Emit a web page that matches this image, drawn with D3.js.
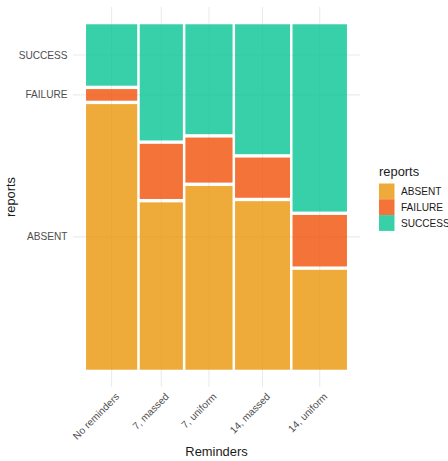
<!DOCTYPE html>
<html>
<head>
<meta charset="utf-8">
<script src="https://cdn.jsdelivr.net/npm/d3@7"></script>
<style>
  body { margin: 0; background: #fff; }
  text { font-family: "Liberation Sans", Arial, Helvetica, sans-serif; }
</style>
</head>
<body>
<svg id="chart" width="448" height="461"></svg>
<script>
// ---- data ----
const reminders = ["No reminders", "7, massed", "7, uniform", "14, massed", "14, uniform"];
const reports = ["ABSENT", "FAILURE", "SUCCESS"];
const absentCounts  = [160, 85, 102, 109, 64];
const failureCounts = [7, 28, 25, 26, 33];
const successCounts = [37, 59, 61, 84, 120];
const colors = ["#EB9609", "#F05006", "#06C492"];

const seriesCounts = [absentCounts, failureCounts, successCounts];
const offset = 0.01;

const svg = d3.select("#chart");
const panel = {left: 73, right: 360, top: 7, bottom: 387};

const colTotals = reminders.map((_, i) => d3.sum(seriesCounts, s => s[i]));
const grand = d3.sum(colTotals);
const xMax = 1 + offset * (reminders.length - 1);
const yMax = 1 + offset * (reports.length - 1);

const x = d3.scaleLinear().domain([-0.05 * xMax, xMax * 1.05]).range([panel.left, panel.right]);
const y = d3.scaleLinear().domain([-0.05 * yMax, yMax * 1.05]).range([panel.bottom, panel.top]);

// build rectangles
const cells = [];
let cx = 0;
reminders.forEach((r, i) => {
  const w = colTotals[i] / grand;
  let cy = 0;
  reports.forEach((rep, j) => {
    const h = seriesCounts[j][i] / colTotals[i];
    cells.push({r, rep, j, x0: cx, x1: cx + w, y0: cy, y1: cy + h});
    cy += h + offset;
  });
  cx += w + offset;
});

const colCenters = reminders.map(r => {
  const c = cells.find(d => d.r === r);
  return (c.x0 + c.x1) / 2;
});
const firstCol = cells.filter(d => d.r === reminders[0]);
const rowCenters = firstCol.map(d => (d.y0 + d.y1) / 2);

// grid
const g = svg.append("g");
g.selectAll(".vgrid").data(colCenters).join("line")
  .attr("x1", d => x(d)).attr("x2", d => x(d))
  .attr("y1", panel.top).attr("y2", panel.bottom)
  .attr("stroke", "#EBEBEB").attr("stroke-width", 1.1);
g.selectAll(".hgrid").data(rowCenters).join("line")
  .attr("y1", d => y(d)).attr("y2", d => y(d))
  .attr("x1", panel.left).attr("x2", panel.right)
  .attr("stroke", "#EBEBEB").attr("stroke-width", 1.1);

// bars
g.selectAll(".cell").data(cells).join("rect")
  .attr("x", d => x(d.x0))
  .attr("width", d => x(d.x1) - x(d.x0))
  .attr("y", d => y(d.y1))
  .attr("height", d => y(d.y0) - y(d.y1))
  .attr("fill", d => colors[d.j])
  .attr("fill-opacity", 0.8);

// y axis labels
g.selectAll(".ylab").data(rowCenters).join("text")
  .attr("x", 67.5).attr("y", d => y(d))
  .attr("dy", "0.35em")
  .attr("text-anchor", "end")
  .attr("font-size", "10.1px")
  .attr("fill", "#4D4D4D")
  .text((d, i) => reports[i]);

// x axis labels
g.selectAll(".xlab").data(colCenters).join("text")
  .attr("transform", d => `translate(${x(d) + 4},${393}) rotate(-45)`)
  .attr("text-anchor", "end")
  .attr("dy", "0.6em")
  .attr("font-size", "10.1px")
  .attr("fill", "#4D4D4D")
  .text((d, i) => reminders[i]);

// axis titles
svg.append("text")
  .attr("x", (panel.left + panel.right) / 2).attr("y", 456)
  .attr("text-anchor", "middle")
  .attr("font-size", "12.9px").attr("fill", "#1a1a1a")
  .text("Reminders");
svg.append("text")
  .attr("transform", `translate(14.5,${(panel.top + panel.bottom) / 2}) rotate(-90)`)
  .attr("text-anchor", "middle")
  .attr("font-size", "12.9px").attr("fill", "#1a1a1a")
  .text("reports");

// legend
const leg = svg.append("g");
leg.append("text").attr("x", 379).attr("y", 176)
  .attr("font-size", "12.9px").attr("fill", "#1a1a1a").text("reports");
reports.forEach((rep, j) => {
  const ky = 183.5 + j * 15.8;
  leg.append("rect").attr("x", 379).attr("y", ky).attr("width", 15.5).attr("height", 15.8)
    .attr("fill", colors[j]).attr("fill-opacity", 0.8);
  leg.append("text").attr("x", 401).attr("y", ky + 7.9).attr("dy", "0.35em")
    .attr("font-size", "10.1px").attr("fill", "#1a1a1a").text(rep);
});
</script>
</body>
</html>
